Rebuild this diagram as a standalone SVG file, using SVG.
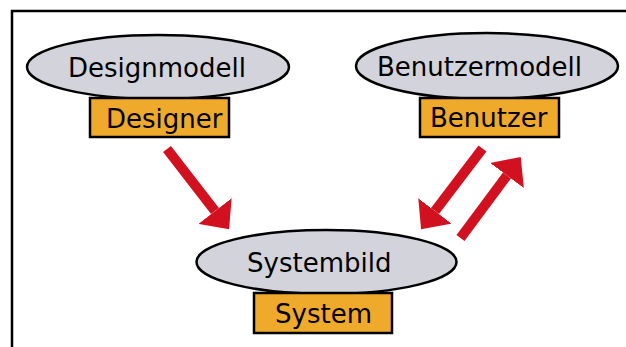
<svg xmlns="http://www.w3.org/2000/svg" width="626" height="347" viewBox="0 0 626 347">
<style>
.ell{fill:#D3D4DB;stroke:#000;stroke-width:2.5}
.box{fill:#EFAA2B;stroke:#000;stroke-width:2.5}
.t{font-family:"DejaVu Sans",Verdana,sans-serif;font-size:26px;fill:#000}
.arr{stroke:#D21120;stroke-width:10;fill:none;marker-end:url(#ah)}
</style>
<defs>
<marker id="ah" markerUnits="userSpaceOnUse" viewBox="0 -21 23 42" markerWidth="23" markerHeight="42" refX="0" refY="0" orient="auto">
<path d="M0,-21 L23,0 L0,21 z" fill="#D21120"/>
</marker>
</defs>
<rect x="12" y="11" width="640" height="360" fill="#fff" stroke="#000" stroke-width="2.5"/>
<g id="designmodell">
<ellipse class="ell" cx="158" cy="67" rx="131" ry="32"/>
<text class="t" x="68" y="77">Designmodell</text>
</g>
<g id="designer">
<rect class="box" x="90" y="98" width="139" height="39"/>
<text class="t" x="106" y="128">Designer</text>
</g>
<g id="benutzermodell">
<ellipse class="ell" cx="487" cy="66" rx="131" ry="33"/>
<text class="t" x="377" y="76">Benutzermodell</text>
</g>
<g id="benutzer">
<rect class="box" x="420" y="98" width="139" height="39"/>
<text class="t" x="430" y="127">Benutzer</text>
</g>
<g id="systembild">
<ellipse class="ell" cx="326.5" cy="262" rx="130" ry="32"/>
<text class="t" x="247" y="272">Systembild</text>
</g>
<g id="system">
<rect class="box" x="254" y="293" width="138" height="40"/>
<text class="t" x="275" y="323">System</text>
</g>
<g id="connectors">
<line class="arr" x1="167" y1="149" x2="215" y2="211"/>
<line class="arr" x1="482.5" y1="148.5" x2="435" y2="211"/>
<line class="arr" x1="460.5" y1="238" x2="507" y2="175.5"/>
</g>
</svg>
